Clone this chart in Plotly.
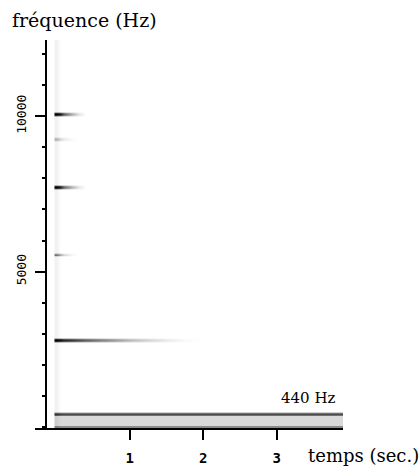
import numpy as np
import plotly.graph_objects as go

# ---- data ----
TIME_S = [0.0, 0.05, 0.1, 0.2, 0.3, 0.4, 0.6, 0.8, 1.0, 1.25, 1.5, 1.75, 2.0, 2.5, 3.0, 3.5, 3.85]

PARTIAL_FREQ_HZ = [440, 2780, 5560, 7725, 9260, 10060]
ENV_440 = [0.75, 0.72, 0.70, 0.70, 0.70, 0.70, 0.70, 0.70, 0.70, 0.70, 0.70, 0.70, 0.70, 0.70, 0.70, 0.70, 0.70]
ENV_2780 = [1.00, 0.95, 0.85, 0.78, 0.70, 0.62, 0.50, 0.38, 0.27, 0.16, 0.08, 0.02, 0.0, 0, 0, 0, 0]
ENV_5560 = [0.50, 0.32, 0.16, 0.04, 0.0, 0, 0, 0, 0, 0, 0, 0, 0, 0, 0, 0, 0]
ENV_7725 = [1.00, 0.88, 0.60, 0.30, 0.10, 0.0, 0, 0, 0, 0, 0, 0, 0, 0, 0, 0, 0]
ENV_9260 = [0.25, 0.15, 0.08, 0.02, 0.0, 0, 0, 0, 0, 0, 0, 0, 0, 0, 0, 0, 0]
ENV_10060 = [1.00, 0.90, 0.64, 0.32, 0.11, 0.0, 0, 0, 0, 0, 0, 0, 0, 0, 0, 0, 0]
ENVELOPES = [ENV_440, ENV_2780, ENV_5560, ENV_7725, ENV_9260, ENV_10060]

NOISE_FLOOR_HZ = [40, 360]       # light noise band under the 440 Hz line
NOISE_FLOOR_LEVEL = 0.15
LOW_EDGE_HZ = 40
LOW_EDGE_LEVEL = 0.45
ONSET_LEVEL = 0.05               # faint broadband click at t = 0
FREQ_MAX_HZ = 12440
FREQ_STEP_HZ = 31

X_TICKS = [1, 2, 3]
Y_TICKS = [5000, 10000]

SERIF = "DejaVu Serif"
MONO = "DejaVu Sans Mono"

# ---- build the spectrogram grid ----
freqs = np.arange(0, FREQ_MAX_HZ + FREQ_STEP_HZ, FREQ_STEP_HZ)
z = np.zeros((len(freqs), len(TIME_S)))
profile = {-2: 0.25, -1: 0.8, 0: 1.0, 1: 0.8, 2: 0.25}
for f, env in zip(PARTIAL_FREQ_HZ, ENVELOPES):
    i = int(round(f / FREQ_STEP_HZ))
    for d, w in profile.items():
        z[i + d, :] = np.maximum(z[i + d, :], w * np.array(env))
band = (freqs >= NOISE_FLOOR_HZ[0]) & (freqs <= NOISE_FLOOR_HZ[1])
z[band, :] += NOISE_FLOOR_LEVEL
z[freqs < LOW_EDGE_HZ, :] += LOW_EDGE_LEVEL
z[:, 0] += ONSET_LEVEL
z = np.clip(z, 0, 1)

fig = go.Figure(go.Heatmap(
    x=TIME_S, y=freqs, z=z,
    colorscale=[[0, "#ffffff"], [1, "#000000"]],
    zmin=0, zmax=1, showscale=False, zsmooth="best", hoverinfo="skip",
))

fig.update_layout(
    width=420, height=466,
    margin=dict(l=35, r=77, t=40, b=38, autoexpand=False),
    paper_bgcolor="white", plot_bgcolor="white",
    showlegend=False,
    xaxis=dict(
        range=[-0.29, 3.9], domain=[0, 1], automargin=False,
        showgrid=False, zeroline=False,
        showline=True, linecolor="black", linewidth=2,
        ticks="outside", ticklen=10, tickwidth=2, tickcolor="black",
        tickvals=X_TICKS, ticktext=[str(v) for v in X_TICKS],
        tickfont=dict(family=MONO, size=14, color="black", weight="bold"),
        ticklabelstandoff=6,
    ),
    yaxis=dict(
        range=[-30, 12450], anchor="free", position=0.036, automargin=False,
        showgrid=False, zeroline=False,
        showline=True, linecolor="black", linewidth=2,
        ticks="outside", ticklen=10, tickwidth=2, tickcolor="black",
        tickvals=Y_TICKS, ticktext=[str(v) for v in Y_TICKS],
        tickangle=-90,
        tickfont=dict(family=MONO, size=13, color="black"),
        ticklabelstandoff=4,
        minor=dict(ticks="outside", tick0=0, dtick=1000, ticklen=3, tickwidth=2, tickcolor="black"),
    ),
    annotations=[
        dict(text="fréquence (Hz)", xref="paper", yref="paper", x=-0.081, y=1.0515,
             xanchor="left", yanchor="middle", showarrow=False,
             font=dict(family=SERIF, size=19, color="black")),
        dict(text="temps (sec.)", xref="paper", yref="paper", x=0.88, y=-0.072,
             xanchor="left", yanchor="middle", showarrow=False,
             font=dict(family=SERIF, size=18, color="black")),
        dict(text="440 Hz", xref="x", yref="y", x=3.82, y=930,
             xanchor="right", yanchor="middle", showarrow=False,
             font=dict(family=SERIF, size=15, color="black")),
    ],
)

fig.write_html("out.html")
